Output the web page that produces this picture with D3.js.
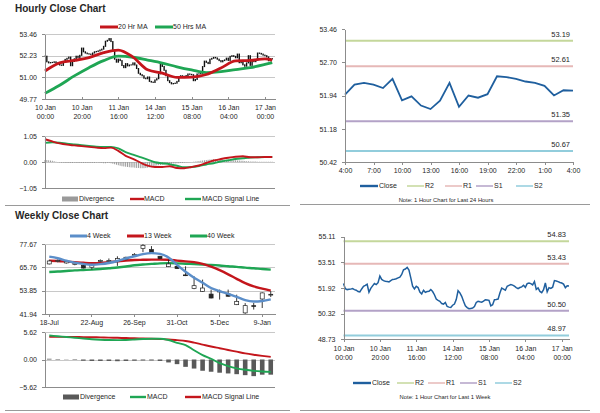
<!DOCTYPE html>
<meta charset="utf-8">
<script src="https://d3js.org/d3.v7.min.js"></script>
<style type="text/css">
body { margin: 0; background: #fff; }
svg text { font-family: "Liberation Sans", Arial, sans-serif; fill: #262626; }
.axis path, .axis line { fill: none; stroke: #8c8c8c; shape-rendering: crispEdges; }
.axis text { font-size: 7px; }
.grid { stroke: #c8c8c8; shape-rendering: crispEdges; }
.title { font-size: 10px; font-weight: bold; }
.leg { font-size: 7px; }
.note { font-size: 5.8px; }
</style>
<body>
<script>

// hourly closes, 10 Jan 00:00 .. 17 Jan 04:00 (weekend skipped)
var hourClose = [
  52.20, 51.88, 51.82, 51.84, 51.85, 51.88, 51.82, 51.78, 51.70, 51.68,
  51.86, 52.02, 52.08, 52.15, 51.66, 51.90, 52.05, 52.20, 52.13, 52.25,
  52.66, 52.45, 52.38, 52.34, 52.32, 52.30, 52.38, 52.45, 52.47, 52.50,
  52.55, 52.60, 52.76, 53.05, 53.10, 53.20, 53.03, 52.55, 52.03, 51.86,
  52.03, 51.95, 51.67, 51.55, 51.78, 51.65, 51.70, 51.71, 51.82, 51.70,
  51.50, 51.23, 51.15, 51.09, 50.95, 50.92, 51.02, 50.77, 50.73, 50.71,
  50.85, 50.92, 51.20, 51.75, 51.62, 51.40, 51.09, 50.81, 50.70, 50.63,
  50.65, 50.67, 50.77, 51.02, 51.09, 51.06, 51.04, 51.10, 51.19, 51.17,
  51.15, 50.81, 50.88, 51.19, 51.20, 51.23, 51.61, 51.92, 51.85, 51.78,
  52.03, 52.08, 52.13, 52.10, 52.03, 51.95, 51.88, 51.95, 51.99, 52.09,
  51.96, 52.19, 52.23, 52.19, 52.11, 52.32, 51.83, 51.92, 51.71, 51.63,
  51.82, 52.23, 51.68, 51.94, 51.89, 51.97, 52.38, 52.36, 52.32, 52.26,
  52.23, 52.16, 51.94, 52.06, 52.05
];
var maHours = [0, 8, 16, 24, 32, 40, 48, 56, 64, 72, 80, 88, 96, 104, 112, 120, 124];
var ma20 = [51.36, 51.82, 51.96, 52.12, 52.40, 52.55, 52.15, 51.43, 51.24, 51.00, 51.01, 51.16, 51.53, 51.93, 51.96, 52.05, 51.98];
var ma50 = [50.09, 50.55, 51.08, 51.55, 51.95, 52.20, 52.14, 51.98, 51.81, 51.60, 51.42, 51.27, 51.32, 51.44, 51.55, 51.73, 51.83];

var macdHours = [0, 4, 8, 12, 16, 20, 24, 28, 32, 36, 40, 44, 48, 52, 56, 60, 64, 68, 72, 76, 80, 84, 88, 92, 96, 100, 104, 108, 112, 116, 120, 124];
var hourMacd = [0.92, 0.83, 0.75, 0.70, 0.67, 0.64, 0.61, 0.58, 0.56, 0.58, 0.45, 0.25, 0.13, -0.02, -0.15, -0.20, -0.20, -0.17, -0.24, -0.25, -0.20, -0.14, -0.04, 0.06, 0.12, 0.17, 0.21, 0.23, 0.19, 0.19, 0.20, 0.20];
var hourSignal = [0.77, 0.80, 0.78, 0.74, 0.71, 0.68, 0.65, 0.62, 0.61, 0.61, 0.55, 0.40, 0.30, 0.20, 0.10, -0.01, -0.05, -0.09, -0.15, -0.21, -0.20, -0.16, -0.10, -0.05, 0.02, 0.07, 0.12, 0.15, 0.18, 0.19, 0.20, 0.20];
var hourDiv = [
  0.08, 0.08, 0.07, 0.06, 0.05, 0.03, 0.01, -0.01, -0.02, -0.03,
  -0.03, -0.04, -0.04, -0.04, -0.04, -0.04, -0.03, -0.04, -0.04, -0.04,
  -0.04, -0.04, -0.04, -0.04, -0.04, -0.04, -0.04, -0.04, -0.03, -0.03,
  -0.04, -0.04, -0.05, -0.05, -0.04, -0.04, -0.05, -0.07, -0.09, -0.11,
  -0.13, -0.15, -0.17, -0.18, -0.19, -0.20, -0.21, -0.22, -0.22, -0.23,
  -0.24, -0.24, -0.25, -0.25, -0.25, -0.24, -0.23, -0.21, -0.19, -0.18,
  -0.16, -0.14, -0.13, -0.12, -0.11, -0.10, -0.09, -0.08, -0.08, -0.07,
  -0.06, -0.06, -0.05, -0.05, -0.04, -0.04, -0.03, -0.02, -0.02, -0.01,
  0.00, 0.01, 0.02, 0.03, 0.04, 0.05, 0.06, 0.07, 0.08, 0.09,
  0.10, 0.10, 0.11, 0.11, 0.11, 0.10, 0.10, 0.10, 0.09, 0.09,
  0.08, 0.08, 0.08, 0.07, 0.07, 0.06, 0.06, 0.05, 0.05, 0.04,
  0.03, 0.03, 0.02, 0.02, 0.02, 0.02, 0.01, 0.01, 0.01, 0.01,
  0.01, 0.01, 0.01, 0.01, 0.01
];
var hourTicks = [0, 20, 40, 60, 80, 100, 120];
var hourTickLabels = [["10 Jan", "00:00"], ["10 Jan", "20:00"], ["11 Jan", "16:00"], ["14 Jan", "12:00"], ["15 Jan", "08:00"], ["16 Jan", "04:00"], ["17 Jan", "00:00"]];

// last 24 hours = hourClose from index 100
var dayStart = 100;
var dayTicks = [0, 3, 6, 9, 12, 15, 18, 21, 24];
var dayTickLabels = ["4:00", "7:00", "10:00", "13:00", "16:00", "19:00", "22:00", "1:00", "4:00"];

var pivotNames = ["R2", "R1", "S1", "S2"];
var pivotColors = ["#c4d79b", "#e6b8b7", "#b3a2c7", "#92cddc"];
var dayPivots = [53.19, 52.61, 51.35, 50.67];
var weekPivots = [54.83, 53.43, 50.50, 48.97];

// weekly
var weeks = ["18-Jul", "25-Jul", "1-Aug", "8-Aug", "15-Aug", "22-Aug", "29-Aug", "5-Sep", "12-Sep", "19-Sep",
  "26-Sep", "3-Oct", "10-Oct", "17-Oct", "24-Oct", "31-Oct", "7-Nov", "14-Nov", "21-Nov", "28-Nov",
  "5-Dec", "12-Dec", "19-Dec", "26-Dec", "2-Jan", "9-Jan", "16-Jan"];
var wkOpen  = [67.5, 69.0, 68.0, 67.2, 66.8, 65.8, 68.7, 68.7, 68.8, 69.7, 71.9, 75.3, 74.8, 71.4, 66.1, 66.3, 61.9, 54.9, 53.5, 52.1, 53.6, 52.2, 46.7, 42.5, 46.2, 49.6, 51.8];
var wkClose = [69.0, 69.2, 68.8, 67.9, 65.4, 67.1, 69.3, 69.2, 70.2, 70.9, 72.4, 77.0, 73.1, 70.2, 67.5, 65.1, 61.7, 56.4, 55.2, 50.1, 53.4, 51.0, 48.4, 46.2, 46.0, 52.7, 52.0];
var wkHigh  = [69.6, 69.8, 69.2, 68.3, 67.0, 67.6, 69.8, 70.3, 71.4, 71.2, 73.0, 77.6, 76.6, 71.6, 69.7, 66.5, 66.3, 61.2, 59.5, 54.4, 54.4, 54.4, 51.8, 47.5, 47.6, 53.0, 53.6];
var wkLow   = [67.2, 68.3, 67.6, 66.8, 65.2, 64.6, 68.4, 68.4, 66.5, 69.3, 71.4, 73.5, 72.8, 70.0, 65.9, 64.9, 61.3, 54.6, 53.2, 49.9, 49.3, 50.8, 46.5, 42.0, 44.2, 45.0, 50.6];
var ma4wk  = [71.2, 70.4, 69.2, 68.2, 67.5, 67.1, 67.4, 68.0, 69.0, 70.3, 71.4, 72.5, 73.0, 72.6, 70.8, 67.0, 63.5, 60.5, 57.9, 55.2, 53.6, 52.2, 50.7, 49.0, 48.3, 48.6, 49.4];
var ma13wk = [69.1, 69.0, 68.7, 68.4, 68.1, 67.9, 68.0, 68.4, 68.8, 69.2, 69.5, 69.6, 69.7, 69.7, 69.6, 69.2, 68.8, 68.4, 67.5, 66.1, 64.3, 62.2, 59.9, 57.7, 56.0, 54.9, 53.9];
var ma40wk = [63.4, 63.6, 63.9, 64.2, 64.4, 64.6, 64.9, 65.3, 65.7, 66.2, 66.8, 67.2, 67.5, 67.8, 67.9, 67.8, 67.6, 67.4, 67.2, 67.0, 66.7, 66.3, 66.0, 65.6, 65.3, 64.9, 64.6];
var wkMacd   = [4.90, 4.75, 4.60, 4.45, 4.30, 4.15, 4.05, 3.98, 3.95, 4.00, 4.08, 4.18, 4.25, 4.25, 3.98, 3.40, 2.95, 1.90, 0.90, 0.15, -0.75, -1.35, -1.80, -2.10, -2.32, -2.45, -2.52];
var wkSignal = [4.63, 4.63, 4.62, 4.60, 4.58, 4.55, 4.52, 4.48, 4.43, 4.38, 4.33, 4.29, 4.25, 4.18, 4.10, 3.95, 3.78, 3.45, 3.05, 2.65, 2.30, 1.95, 1.60, 1.25, 0.98, 0.75, 0.54];
var wkDiv    = [0.15, 0.10, 0.05, -0.10, -0.25, -0.30, -0.30, -0.30, -0.35, -0.30, -0.25, -0.20, -0.20, -0.30, -0.60, -0.95, -1.50, -1.85, -2.30, -2.50, -2.70, -2.85, -3.00, -3.20, -3.40, -3.10, -3.10];

var red = "#c4161c", green = "#1fa654", blue = "#5b8ec9", closeBlue = "#1f5f9e";
var fmt = d3.format(".2f");

var svg = d3.select("body").append("svg").attr("width", 600).attr("height", 413);

// ---------- helpers ----------
function yAxis(y, ticks, x0) {
  svg.append("g").attr("class", "axis").attr("transform", "translate(" + x0 + ",0)")
    .call(d3.axisLeft(y).tickValues(ticks).tickFormat(fmt).tickSize(3).tickSizeOuter(0).tickPadding(5));
}
function grid(y, ticks, x0, x1) {
  svg.append("g").selectAll("line").data(ticks).enter().append("line").attr("class", "grid")
    .attr("x1", x0).attr("x2", x1).attr("y1", function(d) { return Math.round(y(d)) + 0.5; }).attr("y2", function(d) { return Math.round(y(d)) + 0.5; });
}
function twoLine(g, labels) {
  g.selectAll(".tick text").each(function(d, i) {
    var t = d3.select(this).text("").attr("dy", null);
    t.append("tspan").attr("x", 0).attr("dy", "0.71em").text(labels[i][0]);
    t.append("tspan").attr("x", 0).attr("dy", "1.28em").text(labels[i][1]);
  });
}
function legLine(x, y, w, color, width) {
  svg.append("line").attr("x1", x).attr("x2", x + w).attr("y1", y).attr("y2", y)
    .attr("stroke", color).attr("stroke-width", width);
}
function legText(x, y, txt, cls) {
  svg.append("text").attr("class", cls || "leg").attr("x", x).attr("y", y).attr("dy", "0.35em").text(txt);
}

// ---------- Hourly close chart ----------
svg.append("text").attr("class", "title").attr("x", 15).attr("y", 12).text("Hourly Close Chart");
legLine(100, 27, 18, red, 3); legText(118, 27, "20 Hr MA");
legLine(155, 27, 18, green, 3); legText(173, 27, "50 Hrs MA");

var hx = d3.scaleLinear().domain([0, 125.5]).range([45, 275]);
var hy = d3.scaleLinear().domain([49.77, 53.46]).range([99, 34]);
var hTicks = [49.77, 51.00, 52.23, 53.46];
grid(hy, hTicks.slice(1), 45, 275);

svg.append("g").selectAll("rect").data(hourClose).enter().append("rect")
  .attr("x", function(d, i) { return hx(i) - 0.7; })
  .attr("y", function(d, i) { var o = i ? hourClose[i - 1] : d; return hy(Math.max(o, d)) - 0.5; })
  .attr("width", 1.4)
  .attr("height", function(d, i) { var o = i ? hourClose[i - 1] : d; return Math.abs(hy(o) - hy(d)) + 1; })
  .attr("fill", "#111");

var maLine = function(vals) {
  return d3.line().x(function(d, i) { return hx(maHours[i]); }).y(function(d) { return hy(d); }).curve(d3.curveMonotoneX)(vals);
};
svg.append("path").attr("d", maLine(ma50)).attr("fill", "none").attr("stroke", green).attr("stroke-width", 2.8);
svg.append("path").attr("d", maLine(ma20)).attr("fill", "none").attr("stroke", red).attr("stroke-width", 2.8);

yAxis(hy, hTicks, 45);
var hxa = svg.append("g").attr("class", "axis").attr("transform", "translate(0,99)")
  .call(d3.axisBottom(hx).tickValues(hourTicks).tickSize(-2).tickPadding(6).tickSizeOuter(0));
twoLine(hxa, hourTickLabels);

// hourly MACD
var mhy = d3.scaleLinear().domain([-1.05, 1.05]).range([188, 136]);
grid(mhy, [0, 1.05], 45, 275);
svg.append("g").selectAll("rect").data(hourDiv).enter().append("rect")
  .attr("x", function(d, i) { return hx(i) - 0.5; })
  .attr("y", function(d) { return mhy(Math.max(0, d)); })
  .attr("width", 1)
  .attr("height", function(d) { return Math.abs(mhy(d) - mhy(0)); })
  .attr("fill", "#9a9a9a");
var mLine = function(vals) {
  return d3.line().x(function(d, i) { return hx(macdHours[i]); }).y(function(d) { return mhy(d); }).curve(d3.curveMonotoneX)(vals);
};
svg.append("path").attr("d", mLine(hourSignal)).attr("fill", "none").attr("stroke", green).attr("stroke-width", 1.9);
svg.append("path").attr("d", mLine(hourMacd)).attr("fill", "none").attr("stroke", red).attr("stroke-width", 1.9);
yAxis(mhy, [-1.05, 0, 1.05], 45);
svg.append("line").attr("x1", 45).attr("x2", 275).attr("y1", 188.5).attr("y2", 188.5).attr("stroke", "#8c8c8c");

svg.append("rect").attr("x", 62).attr("y", 196.5).attr("width", 16).attr("height", 5).attr("fill", "#9a9a9a");
legText(79, 199, "Divergence");
legLine(130, 199, 14, red, 2.4); legText(144, 199, "MACD");
legLine(185, 199, 16, green, 2.4); legText(202, 199, "MACD Signal Line");

// ---------- last 24 hours ----------
var dx = d3.scaleLinear().domain([0, 24]).range([345, 573]);
var dy = d3.scaleLinear().domain([50.42, 53.46]).range([162, 29]);
var dayClose = hourClose.slice(dayStart);
function pivots(vals, xs, ys) {
  var g = svg.append("g");
  g.selectAll("line").data(vals).enter().append("line")
    .attr("x1", xs.range()[0]).attr("x2", xs.range()[1])
    .attr("y1", function(d) { return ys(d); }).attr("y2", function(d) { return ys(d); })
    .attr("stroke", function(d, i) { return pivotColors[i]; }).attr("stroke-width", 2);
  g.selectAll("text").data(vals).enter().append("text").attr("class", "leg")
    .attr("x", xs.range()[1] - 3).attr("y", function(d) { return ys(d) - 4; })
    .attr("text-anchor", "end").style("font-size", "7.5px").text(fmt);
}
pivots(dayPivots, dx, dy);
svg.append("path").datum(dayClose)
  .attr("d", d3.line().x(function(d, i) { return dx(i); }).y(function(d) { return dy(d); }))
  .attr("fill", "none").attr("stroke", closeBlue).attr("stroke-width", 1.8);
yAxis(dy, [50.42, 51.18, 51.94, 52.70, 53.46], 345);
svg.append("g").attr("class", "axis").attr("transform", "translate(0,162)")
  .call(d3.axisBottom(dx).tickValues(dayTicks).tickSize(3).tickSizeOuter(0)
    .tickFormat(function(d, i) { return dayTickLabels[i]; }));

function pivotLegend(y, pos) {
  legLine(pos[0], y, 18, closeBlue, 2.4); legText(pos[0] + 19, y, "Close");
  pivotNames.forEach(function(n, i) {
    legLine(pos[i + 1], y, 17, pivotColors[i], 1.5); legText(pos[i + 1] + 18, y, n);
  });
}
pivotLegend(186, [360, 407, 445, 476, 516]);
svg.append("text").attr("class", "note").attr("x", 446).attr("y", 200).attr("dy", "0.35em")
  .attr("text-anchor", "middle").text("Note: 1 Hour Chart for Last 24 Hours");

// separators
[[5, 290, 205.5], [300, 590, 204.5], [5, 290, 410.5], [300, 590, 410.5]].forEach(function(s) {
  svg.append("line").attr("x1", s[0]).attr("x2", s[1]).attr("y1", s[2]).attr("y2", s[2]).attr("stroke", "#9a9a9a");
});

// ---------- Weekly close chart ----------
svg.append("text").attr("class", "title").attr("x", 15).attr("y", 219).text("Weekly Close Chart");
legLine(70, 236, 17, blue, 3); legText(87, 236, "4 Week");
legLine(127, 236, 17, red, 3); legText(144, 236, "13 Week");
legLine(190, 236, 17, green, 3); legText(207, 236, "40 Week");

var wx = d3.scaleBand().domain(weeks).range([45, 275]);
var wc = function(d) { return wx(d) + wx.bandwidth() / 2; };
var wy = d3.scaleLinear().domain([41.94, 77.67]).range([314, 244]);
var wTicks = [41.94, 53.85, 65.76, 77.67];
grid(wy, wTicks.slice(1), 45, 275);

var wLine = function(vals, ys) {
  return d3.line().x(function(d, i) { return wc(weeks[i]); }).y(function(d) { return ys(d); }).curve(d3.curveMonotoneX)(vals);
};
svg.append("path").attr("d", wLine(ma40wk, wy)).attr("fill", "none").attr("stroke", green).attr("stroke-width", 2.4);
svg.append("path").attr("d", wLine(ma13wk, wy)).attr("fill", "none").attr("stroke", red).attr("stroke-width", 2.4);

var cg = svg.append("g").selectAll("g").data(weeks).enter().append("g");
cg.append("line")
  .attr("x1", function(d) { return wc(d); }).attr("x2", function(d) { return wc(d); })
  .attr("y1", function(d, i) { return wy(wkHigh[i]); }).attr("y2", function(d, i) { return wy(wkLow[i]); })
  .attr("stroke", "#222").attr("stroke-width", 0.9);
cg.append("rect")
  .attr("x", function(d) { return wc(d) - 2; })
  .attr("y", function(d, i) { return wy(Math.max(wkOpen[i], wkClose[i])); })
  .attr("width", 4)
  .attr("height", function(d, i) { return Math.max(0.8, Math.abs(wy(wkOpen[i]) - wy(wkClose[i]))); })
  .attr("fill", function(d, i) { return wkClose[i] >= wkOpen[i] ? "#fff" : "#262626"; })
  .attr("stroke", "#222").attr("stroke-width", 0.7);

svg.append("path").attr("d", wLine(ma4wk, wy)).attr("fill", "none").attr("stroke", blue).attr("stroke-width", 2.4);

yAxis(wy, wTicks, 45);
svg.append("g").attr("class", "axis").attr("transform", "translate(0,314)")
  .call(d3.axisBottom(wx).tickValues(weeks.filter(function(d, i) { return i % 5 == 0; })).tickSize(3).tickSizeOuter(0));

// weekly MACD
var mwy = d3.scaleLinear().domain([-5.62, 5.62]).range([387, 332]);
grid(mwy, [0, 5.62], 45, 275);
svg.append("g").selectAll("rect").data(wkDiv).enter().append("rect")
  .attr("x", function(d, i) { return wc(weeks[i]) - 2.3; })
  .attr("y", function(d) { return mwy(Math.max(0, d)); })
  .attr("width", 4.6)
  .attr("height", function(d) { return Math.abs(mwy(d) - mwy(0)); })
  .attr("fill", "#595959");
svg.append("path").attr("d", wLine(wkSignal, mwy)).attr("fill", "none").attr("stroke", red).attr("stroke-width", 1.9);
svg.append("path").attr("d", wLine(wkMacd, mwy)).attr("fill", "none").attr("stroke", green).attr("stroke-width", 1.9);
yAxis(mwy, [-5.62, 0, 5.62], 45);
svg.append("line").attr("x1", 45).attr("x2", 275).attr("y1", 387.5).attr("y2", 387.5).attr("stroke", "#8c8c8c");

svg.append("rect").attr("x", 63).attr("y", 394.5).attr("width", 16).attr("height", 5).attr("fill", "#595959");
legText(80, 397, "Divergence");
legLine(130, 397, 16, green, 2.4); legText(147, 397, "MACD");
legLine(185, 397, 16, red, 2.4); legText(202, 397, "MACD Signal Line");

// ---------- last week, hourly ----------
var bx = d3.scaleLinear().domain([0, 124]).range([343.5, 569]);
var by = d3.scaleLinear().domain([48.73, 55.11]).range([339.3, 236.7]);
pivots(weekPivots, bx, by);
svg.append("path").datum(hourClose)
  .attr("d", d3.line().x(function(d, i) { return bx(i); }).y(function(d) { return by(d); }))
  .attr("fill", "none").attr("stroke", closeBlue).attr("stroke-width", 1.5);
yAxis(by, [48.73, 50.32, 51.92, 53.51, 55.11], 343.5);
var bxa = svg.append("g").attr("class", "axis").attr("transform", "translate(0,339.3)")
  .call(d3.axisBottom(bx).tickValues(hourTicks).tickSize(3).tickPadding(4).tickSizeOuter(0));
twoLine(bxa, hourTickLabels);

pivotLegend(383, [353, 397, 428, 460, 495]);
svg.append("text").attr("class", "note").attr("x", 445).attr("y", 397).attr("dy", "0.35em")
  .attr("text-anchor", "middle").text("Note: 1 Hour Chart for Last 1 Week");

</script>
</body>
</html>
